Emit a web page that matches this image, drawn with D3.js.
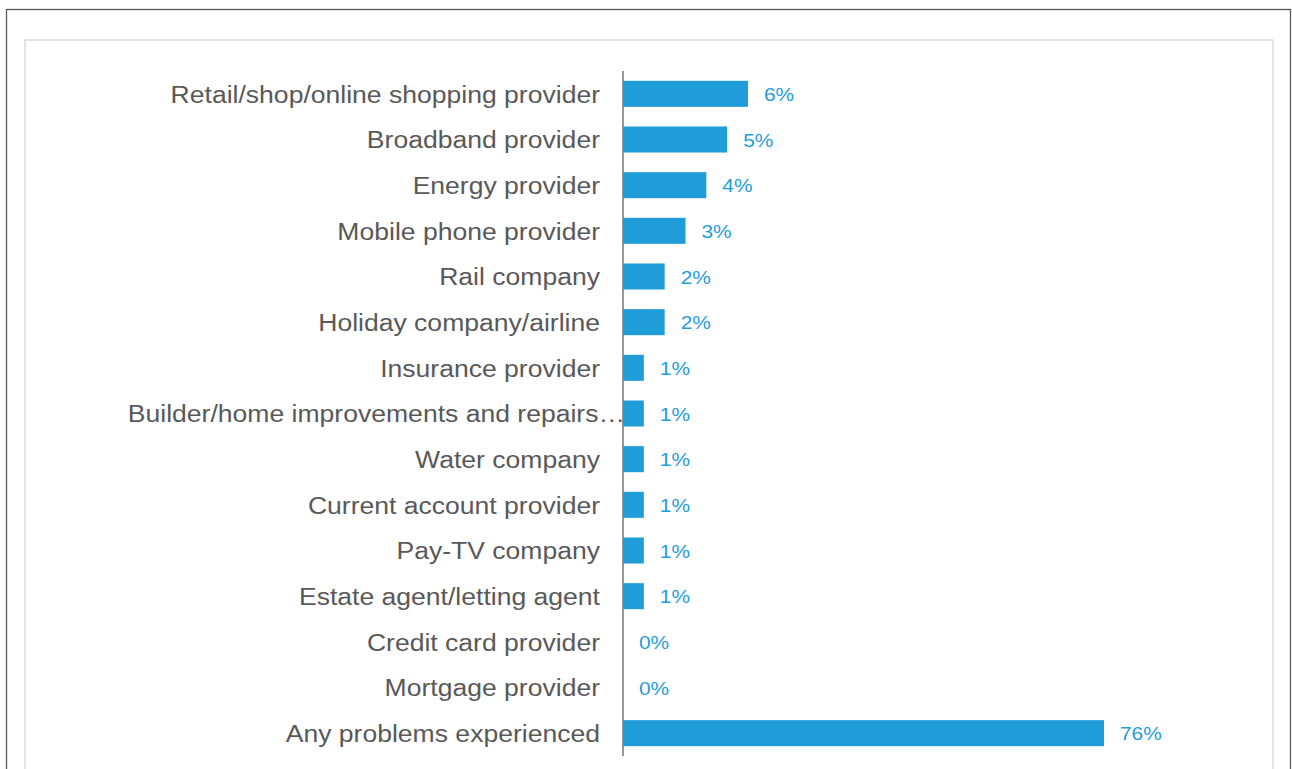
<!DOCTYPE html>
<html>
<head>
<meta charset="utf-8">
<script src="https://cdn.jsdelivr.net/npm/d3@7"></script>
<style>
  html, body { margin: 0; padding: 0; background: #fff; }
  svg { display: block; }
  text { font-family: "Liberation Sans", Arial, sans-serif; }
</style>
</head>
<body>
<svg id="chart" width="1292" height="769"></svg>
<script>
// Share of respondents reporting a problem, by type of provider
const categories = [
  "Retail/shop/online shopping provider",
  "Broadband provider",
  "Energy provider",
  "Mobile phone provider",
  "Rail company",
  "Holiday company/airline",
  "Insurance provider",
  "Builder/home improvements and repairs…",
  "Water company",
  "Current account provider",
  "Pay-TV company",
  "Estate agent/letting agent",
  "Credit card provider",
  "Mortgage provider"
];
const values = [6, 5, 4, 3, 2, 2, 1, 1, 1, 1, 1, 1, 0, 0];

// Summary row shown beneath the provider rows
const totalCategory = "Any problems experienced";
const totalValue = 76;

const rows = categories.map((c, i) => ({ name: c, value: values[i], total: false }))
  .concat([{ name: totalCategory, value: totalValue, total: true }]);

const svg = d3.select("#chart");
const W = 1292, H = 769;
const sx = 1.13; // horizontal stretch applied to all text

// Frames
svg.append("rect")
  .attr("x", 6.5).attr("y", 9.5)
  .attr("width", 1284).attr("height", H + 20)
  .attr("fill", "none").attr("stroke", "#5a5a5a").attr("stroke-width", 1.3);
svg.append("rect")
  .attr("x", 25).attr("y", 40)
  .attr("width", 1248).attr("height", H + 20)
  .attr("fill", "none").attr("stroke", "#e4e4e4").attr("stroke-width", 2);

const x0 = 623;
const barColor = "#1f9dd9";
const textColor = "#595959";

const y = d3.scaleBand()
  .domain(rows.map(d => d.name))
  .range([71, 756])
  .paddingInner(0.43)
  .paddingOuter(0.215);

// Provider rows and the summary row each use their own length scale
const xProvider = d3.scaleLinear().domain([0, 6]).range([x0, x0 + 125]);
const xTotal = d3.scaleLinear().domain([0, 76]).range([x0, x0 + 481]);
const xFor = d => d.total ? xTotal : xProvider;

const g = svg.append("g");

g.selectAll("rect.bar")
  .data(rows)
  .join("rect")
  .attr("class", "bar")
  .attr("x", d => xFor(d)(0))
  .attr("y", d => y(d.name))
  .attr("width", d => xFor(d)(d.value) - xFor(d)(0))
  .attr("height", y.bandwidth())
  .attr("fill", barColor);

// Value labels
g.selectAll("text.val")
  .data(rows)
  .join("text")
  .attr("class", "val")
  .attr("transform", d => `translate(${xFor(d)(d.value) + 16},${y(d.name) + y.bandwidth() / 2}) scale(${sx},1)`)
  .attr("dy", "0.38em")
  .attr("font-size", 18.5)
  .attr("fill", barColor)
  .text(d => d3.format(".0f")(d.value) + "%");

// Category axis
const pad = 23;
const axis = d3.axisLeft(y).tickSize(0).tickPadding(pad);
const ax = svg.append("g")
  .attr("transform", `translate(${x0},0)`)
  .call(axis);
ax.select(".domain")
  .attr("d", `M0,71V756`)
  .attr("stroke", "#7f7f7f")
  .attr("stroke-width", 1.6);
ax.selectAll(".tick text")
  .attr("font-size", 23.5)
  .attr("font-family", "'Liberation Sans', Arial, sans-serif")
  .attr("fill", textColor)
  .attr("dy", "0.38em")
  .attr("x", 0)
  .attr("transform", `translate(${-pad},0) scale(${sx},1)`);

// Labels too long for the gutter run up against the axis line
const gutterLeft = 127;
ax.selectAll(".tick text").each(function () {
  const w = this.getComputedTextLength() * sx;
  if (w > (x0 - pad) - gutterLeft) {
    d3.select(this).attr("transform", `translate(2,0) scale(${sx},1)`);
  }
});
</script>
</body>
</html>
